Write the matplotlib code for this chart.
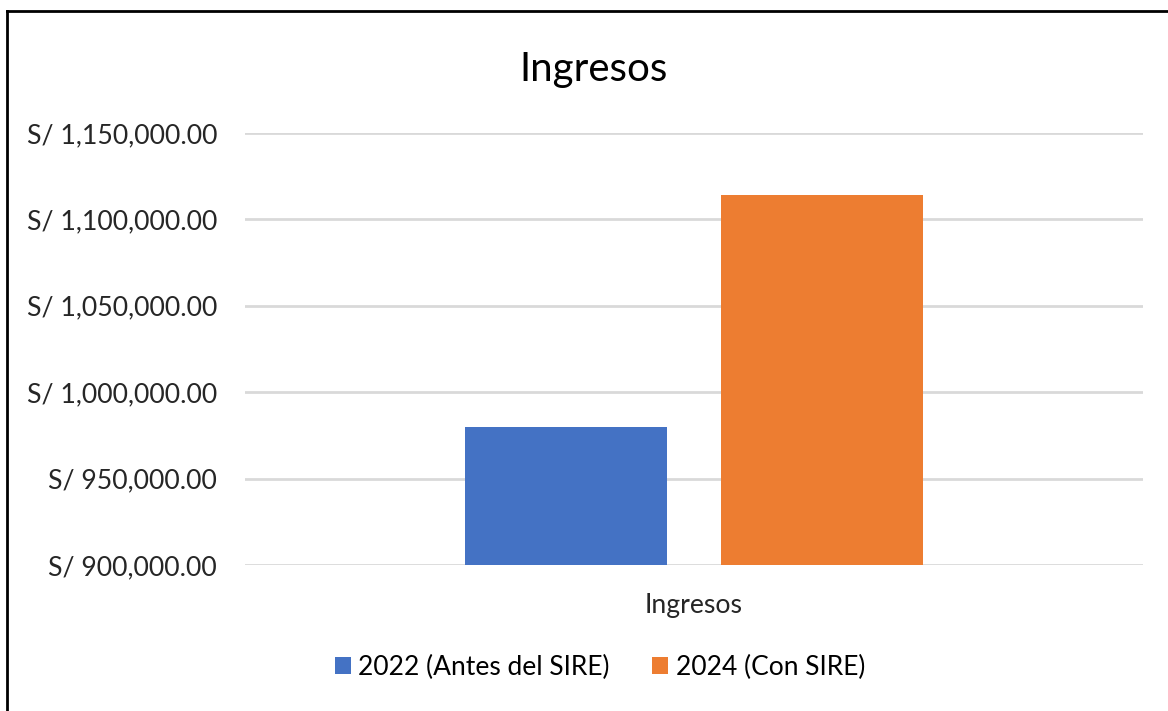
import matplotlib
matplotlib.use("Agg")
import matplotlib.pyplot as plt
from matplotlib.patches import Patch
from matplotlib.lines import Line2D
from matplotlib.ticker import FuncFormatter, MultipleLocator

plt.rcParams['font.family'] = ['Lato', 'DejaVu Sans']

categories = ["Ingresos"]
series_names = ["2022 (Antes del SIRE)", "2024 (Con SIRE)"]
series_values = [[980000], [1114000]]
colors = ["#4472C4", "#ED7D31"]
title = "Ingresos"

W, H = 1168, 711
fig = plt.figure(figsize=(W/100, H/100), dpi=100)
ax = fig.add_axes([245/W, 1-565/H, (1143-245)/W, (565-133)/H])

offsets = [-0.143, 0.143]
width = 0.225
for name, vals, c, off in zip(series_names, series_values, colors, offsets):
    ax.bar([i + off for i in range(len(categories))], vals, width=width, color=c, label=name, zorder=3)

ax.set_xlim(-0.5, 0.5)
ax.set_ylim(900000, 1150000)
ax.yaxis.set_major_locator(MultipleLocator(50000))
ax.yaxis.set_major_formatter(FuncFormatter(lambda v, p: "S/ {:,.2f}".format(v)))
ax.set_xticks(range(len(categories)))
ax.set_xticklabels(categories)
ax.tick_params(axis='both', length=0, labelsize=19.2, colors="#000000", labelcolor="#262626")
ax.tick_params(axis='y', pad=20)
ax.tick_params(axis='x', pad=20)
ax.grid(axis='y', color="#D9D9D9", linewidth=2, zorder=0)
for s in ax.spines.values():
    s.set_visible(False)

fig.text(594/W, 1-70/H, title, ha='center', va='center', fontsize=29, color="#000000")

handles = [Patch(facecolor=c, edgecolor='none') for c in colors]
fig.legend(handles, series_names, loc='center', bbox_to_anchor=(600/W, 1-667/H), ncol=2,
           frameon=False, fontsize=19, handlelength=0.6, handleheight=0.6,
           handletextpad=0.3, columnspacing=1.6)

# outer frame (left and top edges visible)
fig.add_artist(Line2D([7/W, 7/W], [0, 1-11/H], transform=fig.transFigure, color='black', linewidth=2))
fig.add_artist(Line2D([7/W, 1], [1-11/H, 1-11/H], transform=fig.transFigure, color='black', linewidth=2))

fig.savefig("out.png", dpi=100, facecolor='white')
